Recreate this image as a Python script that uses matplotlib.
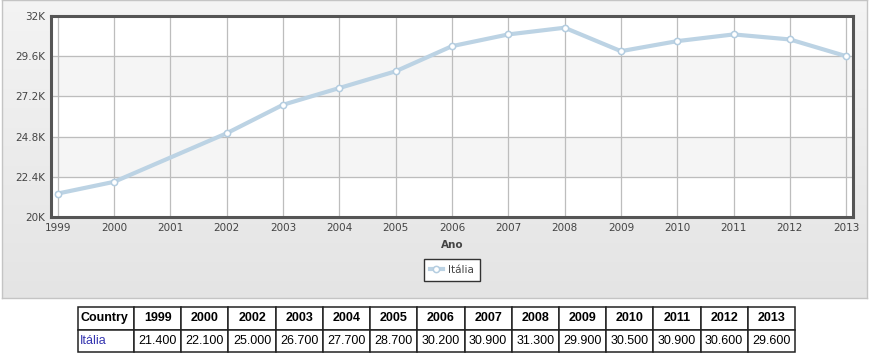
import numpy as np
import matplotlib
matplotlib.use("Agg")
from matplotlib import pyplot as plt

# dados
anos = [1999, 2000, 2002, 2003, 2004, 2005, 2006, 2007, 2008, 2009, 2010, 2011, 2012, 2013]
valores = [21400, 22100, 25000, 26700, 27700, 28700, 30200, 30900, 31300, 29900, 30500, 30900, 30600, 29600]
valores_txt = ["21.400", "22.100", "25.000", "26.700", "27.700", "28.700", "30.200",
               "30.900", "31.300", "29.900", "30.500", "30.900", "30.600", "29.600"]
pais = "Itália"
yticks = [20000, 22400, 24800, 27200, 29600, 32000]
ytick_labels = ["20K", "22.4K", "24.8K", "27.2K", "29.6K", "32K"]
xticks = list(range(1999, 2014))

W, H = 880, 356
fig = plt.figure(figsize=(W / 100, H / 100), dpi=100)
fig.patch.set_facecolor("white")

def box(x0, y0, x1, y1):
    # caixa em pixels (origem em cima) -> fracao da figura
    return [x0 / W, 1 - y1 / H, (x1 - x0) / W, (y1 - y0) / H]

# painel cinza com gradiente
bg = fig.add_axes(box(2, 0, 867, 298))
grad = np.linspace(0.955, 0.895, 100).reshape(-1, 1)
bg.imshow(np.dstack([grad, grad, grad]), aspect="auto", extent=[0, 1, 0, 1])
bg.set_xticks([])
bg.set_yticks([])
for s in bg.spines.values():
    s.set_color("#c4c4c4")
    s.set_linewidth(1)

# grafico
ax = fig.add_axes(box(51, 16, 853, 217))
ax.set_facecolor("white")
ax.axhspan(22400, 24800, color="#f5f5f5", zorder=0)
ax.axhspan(27200, 29600, color="#f5f5f5", zorder=0)
ax.set_xlim(1998.88, 2013.12)
ax.set_ylim(20000, 32000)
ax.set_yticks(yticks)
ax.set_yticklabels(ytick_labels)
ax.set_xticks(xticks)
ax.grid(True, color="#bdbdbd", linewidth=0.9, zorder=1)
ax.set_axisbelow(True)
ax.tick_params(length=0, labelsize=7.5, labelcolor="#444444")
ax.tick_params(axis="y", pad=4)
ax.tick_params(axis="x", pad=4)
for s in ax.spines.values():
    s.set_color("#555555")
    s.set_linewidth(2.2)

ax.plot(anos, valores, color="#bcd3e4", lw=3, marker="o", ms=4.5,
        mfc="white", mec="#b4cde0", mew=1.1, label=pais, zorder=3, clip_on=False)
ax.set_xlabel("Ano", fontsize=7.5, fontweight="bold", color="#444444", labelpad=5)

leg = fig.legend(loc="center", bbox_to_anchor=(452 / W, 1 - 270 / H), fontsize=7.5,
                 fancybox=False, framealpha=1, edgecolor="#333333", handlelength=1.2,
                 borderpad=0.6, handletextpad=0.5)
leg.get_frame().set_linewidth(1)
for t in leg.get_texts():
    t.set_color("#444444")

# tabela
tax = fig.add_axes(box(78, 307, 795, 352))
tax.axis("off")
linhas = [["Country"] + [str(a) for a in anos], [pais] + valores_txt]
larg = [56] + [(717 - 56) / len(anos)] * len(anos)
larg = [w / sum(larg) for w in larg]
tab = tax.table(cellText=linhas, colWidths=larg, bbox=[0, 0, 1, 1], cellLoc="center")
tab.auto_set_font_size(False)
for (r, c), cell in tab.get_celld().items():
    cell.set_edgecolor("#222222")
    cell.set_linewidth(1.1)
    txt = cell.get_text()
    txt.set_fontsize(9)
    txt.set_fontfamily("Liberation Sans")
    if r == 0:
        txt.set_fontweight("bold")
    if c == 0:
        txt.set_ha("left")
        cell.PAD = 0.04
    if r == 1 and c == 0:
        txt.set_color("#3535b0")

fig.savefig("out.png", dpi=100)
